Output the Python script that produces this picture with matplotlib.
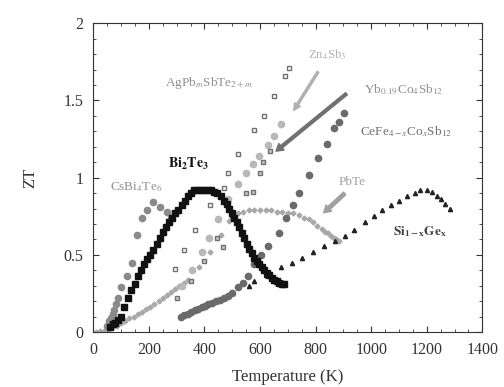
import matplotlib
matplotlib.use("Agg")
import matplotlib.pyplot as plt
from matplotlib.ticker import MultipleLocator

plt.rcParams['font.family'] = ['Liberation Serif', 'DejaVu Serif']
plt.rcParams['mathtext.fontset'] = 'stix'

# ZT vs temperature
bi2te3_t = [60, 70, 80, 90, 100, 112, 125, 137, 150, 162, 173, 184, 195, 205, 215, 228, 240,
            252, 263, 274, 285, 295, 305, 318, 330, 342, 353, 364, 375, 388, 400, 412, 425,
            435, 445, 458, 472, 481, 490, 499, 508, 517, 526, 535, 544, 553, 562, 571, 580,
            589, 598, 607, 616, 625, 634, 643, 652, 661, 670, 679, 688]
bi2te3_zt = [0.03, 0.05, 0.06, 0.08, 0.10, 0.16, 0.22, 0.27, 0.31, 0.36, 0.40, 0.44, 0.47,
             0.50, 0.53, 0.57, 0.61, 0.65, 0.68, 0.71, 0.74, 0.77, 0.79, 0.82, 0.85, 0.88,
             0.90, 0.92, 0.92, 0.92, 0.92, 0.92, 0.92, 0.91, 0.90, 0.88, 0.85, 0.83, 0.80,
             0.77, 0.74, 0.71, 0.68, 0.64, 0.61, 0.57, 0.54, 0.51, 0.48, 0.46, 0.44, 0.42,
             0.40, 0.38, 0.37, 0.35, 0.34, 0.33, 0.32, 0.31, 0.31]

csbi_t = [50, 58, 65, 70, 76, 83, 90, 100, 120, 140, 158, 176, 194, 216, 241, 266, 281]
csbi_zt = [0.04, 0.07, 0.09, 0.12, 0.14, 0.18, 0.22, 0.29, 0.36, 0.45, 0.63, 0.74, 0.79,
           0.84, 0.81, 0.78, 0.74]

pbte_t = [10, 25, 40, 55, 70, 85, 100, 115, 130, 145, 160, 175, 190, 205, 220, 235, 250,
          265, 280, 295, 310, 325, 340, 380, 420, 460, 490, 520, 540, 560, 580, 600, 620,
          640, 660, 680, 700, 720, 740, 760, 775, 790, 805, 822, 835, 845, 855, 865, 875, 883]
pbte_zt = [0.0, 0.005, 0.01, 0.02, 0.03, 0.04, 0.06, 0.07, 0.09, 0.10, 0.12, 0.13, 0.15,
           0.16, 0.18, 0.20, 0.22, 0.24, 0.26, 0.28, 0.30, 0.32, 0.34, 0.42, 0.52, 0.63,
           0.72, 0.77, 0.78, 0.79, 0.79, 0.79, 0.79, 0.79, 0.78, 0.78, 0.77, 0.77, 0.76,
           0.74, 0.73, 0.71, 0.69, 0.67, 0.65, 0.64, 0.62, 0.61, 0.60, 0.59]

zn4sb3_t = [320, 355, 390, 415, 450, 486, 522, 551, 576, 598, 630, 652, 677]
zn4sb3_zt = [0.30, 0.40, 0.52, 0.61, 0.73, 0.86, 0.96, 1.03, 1.09, 1.14, 1.21, 1.27, 1.35]

yb_t = [300, 350, 400, 446, 468, 500, 550, 576, 600, 612, 637]
yb_zt = [0.22, 0.33, 0.46, 0.61, 0.55, 0.75, 0.90, 0.91, 1.03, 1.10, 1.17]

agpb_t = [295, 325, 367, 421, 470, 486, 522, 577, 613, 652, 689, 703]
agpb_zt = [0.41, 0.53, 0.66, 0.82, 0.93, 1.03, 1.15, 1.31, 1.40, 1.53, 1.66, 1.71]

cefe_t = [317, 328, 340, 352, 365, 378, 390, 402, 414, 427, 440, 456, 472, 486, 500, 522,
          540, 558, 580, 605, 630, 667, 695, 720, 742, 778, 810, 840, 865, 883, 901]
cefe_zt = [0.10, 0.11, 0.12, 0.13, 0.14, 0.15, 0.16, 0.17, 0.18, 0.19, 0.20, 0.21, 0.22,
           0.235, 0.25, 0.29, 0.32, 0.36, 0.44, 0.50, 0.56, 0.64, 0.74, 0.82, 0.90, 1.02,
           1.13, 1.22, 1.32, 1.36, 1.42]

sige_t = [560, 580, 620, 677, 715, 750, 790, 832, 870, 905, 940, 977, 1010, 1038, 1070, 1099,
          1130, 1157, 1175, 1200, 1220, 1236, 1250, 1265, 1283]
sige_zt = [0.30, 0.33, 0.37, 0.42, 0.45, 0.48, 0.52, 0.56, 0.59, 0.62, 0.66, 0.71, 0.75, 0.79,
           0.82, 0.85, 0.88, 0.90, 0.92, 0.92, 0.91, 0.88, 0.86, 0.83, 0.80]

fig = plt.figure(figsize=(5.04, 3.87), dpi=100)
ax = fig.add_axes([0.185, 0.142, 0.772, 0.798])

ax.plot(pbte_t, pbte_zt, 'D', color='#a8a8a8', ms=2.5, ls='none')
ax.plot(csbi_t, csbi_zt, 'o', color='#8a8a8a', ms=4.5, ls='none')
ax.plot(zn4sb3_t, zn4sb3_zt, 'o', color='#b8b8b8', ms=4.5, ls='none')
ax.plot(yb_t, yb_zt, 's', mfc='#c8c8c8', mec='#707070', ms=3.5, ls='none')
ax.plot(agpb_t, agpb_zt, 's', mfc='white', mec='#707070', ms=3.5, ls='none')
ax.plot(cefe_t, cefe_zt, 'o', color='#6a6a6a', ms=4.5, ls='none')
ax.plot(sige_t, sige_zt, '^', color='#222222', ms=3, ls='none')
ax.plot(bi2te3_t, bi2te3_zt, 's', color='#111111', ms=3.8, ls='none')

ax.annotate('', xy=(716, 1.42), xytext=(814, 1.70),
            arrowprops=dict(arrowstyle='simple,head_width=0.5,tail_width=0.15', color='#b0b0b0'))
ax.annotate('', xy=(650, 1.16), xytext=(919, 1.555),
            arrowprops=dict(arrowstyle='simple,head_width=0.6,tail_width=0.2', color='#707070'))
ax.annotate('', xy=(822, 0.76), xytext=(912, 0.91),
            arrowprops=dict(arrowstyle='simple,head_width=0.6,tail_width=0.25', color='#a0a0a0'))

ax.text(840, 1.80, r'Zn$_4$Sb$_3$', color='#b0b0b0', fontsize=9, ha='center', va='center')
ax.text(418, 1.61, r'AgPb$_m$SbTe$_{2+m}$', color='#909090', fontsize=9.5, ha='center', va='center')
ax.text(1117, 1.57, r'Yb$_{0.19}$Co$_4$Sb$_{12}$', color='#909090', fontsize=9.5, ha='center', va='center')
ax.text(1124, 1.30, r'CeFe$_{4-x}$Co$_x$Sb$_{12}$', color='#707070', fontsize=9.5, ha='center', va='center')
ax.text(930, 0.97, 'PbTe', color='#a0a0a0', fontsize=9.5, ha='center', va='center')
ax.text(1175, 0.65, r'$\mathbf{Si_{1-x}Ge_x}$', color='#404040', fontsize=9.5, ha='center', va='center')
ax.text(342, 1.09, r'$\mathbf{Bi_2Te_3}$', color='#111111', fontsize=10, ha='center', va='center')
ax.text(155, 0.94, r'CsBi$_4$Te$_6$', color='#909090', fontsize=9.5, ha='center', va='center')

ax.set_xlim(0, 1400)
ax.set_ylim(0, 2)
ax.xaxis.set_major_locator(MultipleLocator(200))
ax.xaxis.set_minor_locator(MultipleLocator(50))
ax.yaxis.set_major_locator(MultipleLocator(0.5))
ax.yaxis.set_minor_locator(MultipleLocator(0.1))
ax.set_yticks([0, 0.5, 1, 1.5, 2])
ax.set_yticklabels(['0', '0.5', '1', '1.5', '2'])
ax.tick_params(which='both', direction='in', top=True, right=True, labelsize=11.5, colors='#333333')
ax.tick_params(which='major', length=4)
ax.tick_params(which='minor', length=2)
ax.tick_params(axis='y', which='major', pad=7)
ax.tick_params(axis='x', which='major', pad=7)
for s in ax.spines.values():
    s.set_color('#333333')

ax.set_xlabel('Temperature (K)', fontsize=12, color='#333333', labelpad=8)
ax.set_ylabel('ZT', fontsize=12, color='#333333', labelpad=18)

fig.savefig('out.png', dpi=100)
